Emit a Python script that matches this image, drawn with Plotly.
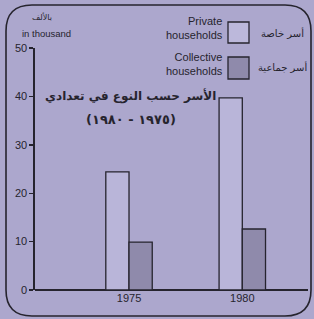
import plotly.graph_objects as go

years = ["1975", "1980"]
private_households = [24.4, 39.7]
collective_households = [9.9, 12.6]
y_ticks = [0, 10, 20, 30, 40, 50]

BG = "#aca7cd"
INK = "#26242e"

W, H = 314, 319
L, R, T, B = 35, 6, 48, 29
PW, PH = W - L - R, H - T - B


def px(x):
    return (x - L) / PW


def py(y):
    return (H - B - y) / PH


fig = go.Figure()
fig.add_trace(go.Bar(x=years, y=private_households, name="Private households",
                     marker=dict(color="#b9b5d9", line=dict(color=INK, width=1.3))))
fig.add_trace(go.Bar(x=years, y=collective_households, name="Collective households",
                     marker=dict(color="#8f8aab", line=dict(color=INK, width=1.3))))

# rounded frame
x0, x1, y0, y1, r = 6, 311, 5, 316, 26
path = (f"M {px(x0+r)},{py(y0)} L {px(x1-r)},{py(y0)} Q {px(x1)},{py(y0)} {px(x1)},{py(y0+r)} "
        f"L {px(x1)},{py(y1-r)} Q {px(x1)},{py(y1)} {px(x1-r)},{py(y1)} "
        f"L {px(x0+r)},{py(y1)} Q {px(x0)},{py(y1)} {px(x0)},{py(y1-r)} "
        f"L {px(x0)},{py(y0+r)} Q {px(x0)},{py(y0)} {px(x0+r)},{py(y0)} Z")
shapes = [dict(type="path", xref="paper", yref="paper", path=path,
               line=dict(color=INK, width=1.6), layer="below")]

# legend swatches
shapes.append(dict(type="rect", xref="paper", yref="paper", x0=px(228), x1=px(249),
                   y0=py(43), y1=py(22), fillcolor="#bcb8db", line=dict(color=INK, width=1.3)))
shapes.append(dict(type="rect", xref="paper", yref="paper", x0=px(228), x1=px(249),
                   y0=py(79), y1=py(57), fillcolor="#8f8aab", line=dict(color=INK, width=1.3)))

ann = []
def text(x, y, s, size, xanchor="center", bold=False, family="Liberation Sans, Arial, sans-serif"):
    ann.append(dict(x=px(x), y=py(y), xref="paper", yref="paper", text=s, showarrow=False,
                    xanchor=xanchor, yanchor="middle", align="right" if xanchor == "right" else "center",
                    font=dict(size=size, color=INK, family=family)))

text(225, 28, "Private<br>households", 11, xanchor="right")
text(225, 64, "Collective<br>households", 11, xanchor="right")
text(282, 33, "أسر خاصة", 10, family="DejaVu Sans, sans-serif")
text(282, 67, "أسر جماعية", 10, family="DejaVu Sans, sans-serif")
text(42, 17, "بالألف", 8, family="DejaVu Sans, sans-serif")
text(20, 34, "in thousand", 9.5, xanchor="left")
text(130, 96, "<b>الأسر حسب النوع في تعدادي</b>", 12, family="DejaVu Sans, sans-serif")
text(131, 119, "<b>(١٩٧٥ - ١٩٨٠)</b>", 13, family="DejaVu Sans, sans-serif")

fig.update_layout(
    width=W, height=H,
    margin=dict(l=L, r=R, t=T, b=B, pad=0),
    paper_bgcolor=BG, plot_bgcolor=BG,
    barmode="group", bargap=0.59, bargroupgap=0,
    showlegend=False, hovermode=False,
    shapes=shapes, annotations=ann,
    xaxis=dict(type="category", range=[-0.83, 1.58], showline=False, showgrid=False,
               zeroline=False, ticks="", tickfont=dict(size=11, color=INK,
               family="Liberation Sans, Arial, sans-serif")),
    yaxis=dict(range=[0, 50], tickvals=y_ticks, showgrid=False, zeroline=True,
               zerolinecolor=INK, zerolinewidth=1.6, showline=True, linecolor=INK,
               linewidth=1.6, ticks="outside", ticklen=4, tickcolor=INK, tickwidth=1.4,
               tickfont=dict(size=11, color=INK, family="Liberation Sans, Arial, sans-serif")),
)

fig.write_html("out.html", config={"displayModeBar": False, "staticPlot": True},
               post_script="document.body.style.margin='0';document.body.style.overflow='hidden';"
                           "document.body.style.background='" + BG + "';")
